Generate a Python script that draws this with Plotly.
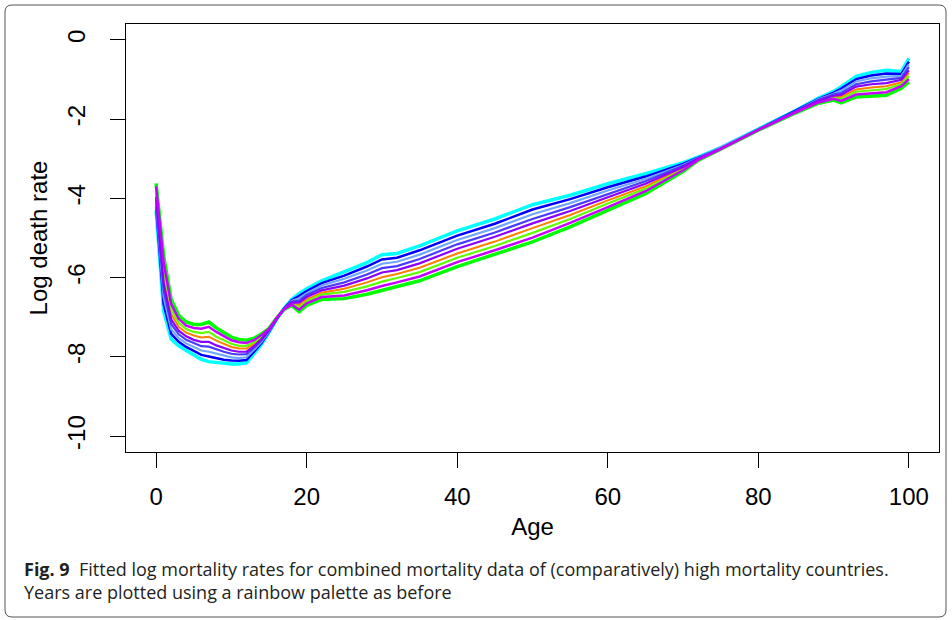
import plotly.graph_objects as go

# Ages at which the fitted curves are read
ages = [0, 1, 2, 3, 4, 5, 6, 7, 8, 9, 10, 11, 12, 13, 14, 15, 16, 17, 18, 19, 20,
        22, 25, 28, 30, 32, 35,
        40, 45, 50, 55, 60, 65, 70,
        72, 75, 80, 85, 88,
        90, 91, 93, 95, 97, 99, 100]

# Fitted log death rates, one curve per year group (rainbow palette)
year_green = [-3.62, -5.45, -6.55, -6.95, -7.12, -7.18, -7.18, -7.12, -7.27, -7.38, -7.50, -7.56, -7.58, -7.53, -7.42, -7.28, -7.02, -6.80, -6.70, -6.86, -6.70,
              -6.55, -6.53, -6.42, -6.32, -6.22, -6.08,
              -5.72, -5.42, -5.10, -4.72, -4.30, -3.88, -3.32,
              -3.04, -2.76, -2.28, -1.84, -1.60,
              -1.52, -1.59, -1.44, -1.42, -1.40, -1.22, -1.06]
year_purple = [-3.70, -5.62, -6.67, -7.04, -7.21, -7.27, -7.29, -7.24, -7.37, -7.48, -7.58, -7.63, -7.65, -7.58, -7.45, -7.29, -7.02, -6.80, -6.68, -6.81, -6.65,
               -6.49, -6.45, -6.32, -6.21, -6.12, -5.97,
               -5.61, -5.31, -4.99, -4.62, -4.22, -3.82, -3.29,
               -3.03, -2.76, -2.27, -1.83, -1.58,
               -1.49, -1.54, -1.38, -1.35, -1.32, -1.17, -0.99]
year_lime = [-3.79, -5.80, -6.80, -7.14, -7.30, -7.37, -7.40, -7.37, -7.49, -7.58, -7.67, -7.72, -7.72, -7.63, -7.49, -7.31, -7.03, -6.80, -6.66, -6.75, -6.60,
             -6.43, -6.36, -6.22, -6.10, -6.01, -5.86,
             -5.50, -5.20, -4.87, -4.52, -4.13, -3.76, -3.27,
             -3.02, -2.75, -2.27, -1.83, -1.57,
             -1.47, -1.49, -1.31, -1.27, -1.24, -1.12, -0.91]
year_orange = [-3.87, -5.97, -6.92, -7.24, -7.39, -7.46, -7.51, -7.49, -7.59, -7.67, -7.75, -7.79, -7.79, -7.67, -7.52, -7.32, -7.03, -6.79, -6.64, -6.69, -6.55,
               -6.38, -6.28, -6.12, -5.99, -5.91, -5.75,
               -5.39, -5.09, -4.75, -4.42, -4.05, -3.70, -3.24,
               -3.01, -2.75, -2.27, -1.82, -1.55,
               -1.44, -1.44, -1.25, -1.20, -1.17, -1.07, -0.84]
year_violet = [-3.96, -6.15, -7.05, -7.34, -7.48, -7.57, -7.62, -7.62, -7.71, -7.78, -7.84, -7.87, -7.87, -7.73, -7.55, -7.33, -7.04, -6.79, -6.63, -6.63, -6.49,
               -6.32, -6.20, -6.02, -5.87, -5.81, -5.64,
               -5.27, -4.97, -4.63, -4.32, -3.97, -3.63, -3.21,
               -3.00, -2.74, -2.27, -1.81, -1.54,
               -1.41, -1.39, -1.18, -1.12, -1.09, -1.01, -0.77]
year_indigo = [-4.04, -6.32, -7.17, -7.43, -7.57, -7.66, -7.73, -7.74, -7.81, -7.87, -7.92, -7.94, -7.93, -7.77, -7.58, -7.34, -7.04, -6.79, -6.61, -6.58, -6.44,
               -6.26, -6.12, -5.92, -5.76, -5.71, -5.53,
               -5.16, -4.86, -4.52, -4.22, -3.89, -3.57, -3.18,
               -2.99, -2.74, -2.26, -1.80, -1.52,
               -1.38, -1.34, -1.12, -1.05, -1.01, -0.96, -0.69]
year_sky = [-4.13, -6.50, -7.30, -7.53, -7.66, -7.76, -7.84, -7.87, -7.92, -7.97, -8.01, -8.03, -8.01, -7.82, -7.62, -7.36, -7.04, -6.79, -6.59, -6.52, -6.39,
            -6.20, -6.03, -5.82, -5.65, -5.60, -5.42,
            -5.05, -4.75, -4.40, -4.12, -3.80, -3.51, -3.16,
            -2.98, -2.73, -2.26, -1.80, -1.50,
            -1.36, -1.28, -1.05, -0.97, -0.93, -0.91, -0.62]
year_blue = [-4.21, -6.67, -7.42, -7.62, -7.75, -7.85, -7.95, -7.99, -8.03, -8.07, -8.09, -8.10, -8.08, -7.87, -7.65, -7.37, -7.05, -6.78, -6.57, -6.46, -6.34,
             -6.14, -5.95, -5.72, -5.54, -5.50, -5.31,
             -4.94, -4.64, -4.28, -4.02, -3.72, -3.45, -3.13,
             -2.97, -2.73, -2.26, -1.79, -1.49,
             -1.33, -1.23, -0.99, -0.90, -0.85, -0.86, -0.55]
year_cyan = [-4.30, -6.85, -7.55, -7.72, -7.84, -7.95, -8.06, -8.12, -8.14, -8.17, -8.18, -8.18, -8.15, -7.92, -7.68, -7.38, -7.05, -6.78, -6.55, -6.40, -6.28,
             -6.08, -5.86, -5.62, -5.42, -5.39, -5.20,
             -4.82, -4.52, -4.16, -3.92, -3.63, -3.38, -3.10,
             -2.96, -2.72, -2.25, -1.78, -1.47,
             -1.30, -1.18, -0.92, -0.82, -0.77, -0.80, -0.47]

x_ticks = [0, 20, 40, 60, 80, 100]
y_ticks = [0, -2, -4, -6, -8, -10]

# drawing order, colour, width
series = [
    (year_cyan, "#00FFFF", 3.5),
    (year_green, "#00FF00", 3.5),
    (year_blue, "#0000FF", 2.5),
    (year_sky, "#70A8FF", 2.2),
    (year_indigo, "#4A3CFF", 2.2),
    (year_orange, "#FF8000", 2.0),
    (year_lime, "#60FF00", 2.2),
    (year_violet, "#8A00FF", 2.2),
    (year_purple, "#C800FF", 2.5),
]

fig = go.Figure()
for vals, col, w in series:
    fig.add_trace(go.Scatter(x=ages, y=vals, mode="lines",
                             line=dict(color=col, width=w), showlegend=False,
                             hoverinfo="skip"))

L, T, R, B = 126, 24, 939, 452
W, H = 952, 620
pw, ph = R - L, B - T

def px(xp):
    return (xp - L) / pw

def py(yp):
    return (B - yp) / ph

axis_font = dict(family="Liberation Sans, Arial, sans-serif", size=24, color="black")

fig.update_layout(
    width=W, height=H,
    margin=dict(l=L, r=W - R, t=T, b=H - B, autoexpand=False),
    paper_bgcolor="white", plot_bgcolor="white",
    xaxis=dict(range=[-4, 104], tickvals=x_ticks, ticktext=[str(v) for v in x_ticks],
               showgrid=False, zeroline=False, showline=True, mirror=True,
               linecolor="black", linewidth=1, ticks="outside", ticklen=15,
               tickcolor="black", tickwidth=1, tickfont=axis_font,
               ticklabelstandoff=8,
               title=dict(text="Age", font=axis_font, standoff=9)),
    yaxis=dict(range=[-10.4, 0.4], tickvals=y_ticks, ticktext=[str(v) for v in y_ticks],
               showgrid=False, zeroline=False, showline=True, mirror=True,
               linecolor="black", linewidth=1, ticks="outside", ticklen=15,
               tickcolor="black", tickwidth=1, tickfont=axis_font, tickangle=-90,
               ticklabelstandoff=15,
               title=dict(text="Log death rate", font=axis_font, standoff=9)),
    font=dict(family="Liberation Sans, Arial, sans-serif"),
)

# rounded figure frame
x0, x1, y0, y1, r = px(5), px(946), py(5), py(617), 7
rx, ry = r / pw, r / ph
path = (f"M {x0+rx},{y0} L {x1-rx},{y0} Q {x1},{y0} {x1},{y0-ry} "
        f"L {x1},{y1+ry} Q {x1},{y1} {x1-rx},{y1} "
        f"L {x0+rx},{y1} Q {x0},{y1} {x0},{y1+ry} "
        f"L {x0},{y0-ry} Q {x0},{y0} {x0+rx},{y0} Z")
fig.add_shape(type="path", path=path, xref="paper", yref="paper",
              line=dict(color="#555555", width=1), fillcolor="rgba(0,0,0,0)")

cap_font = dict(family="Open Sans, sans-serif", size=18, color="#231F20")
fig.add_annotation(xref="paper", yref="paper", x=px(22), y=py(580.5), xanchor="left", yanchor="middle",
                   showarrow=False, font=cap_font, align="left",
                   text="<b>Fig. 9</b>&nbsp;&nbsp;Fitted log mortality rates for combined mortality data of (comparatively) high mortality countries."
                        "<br>Years are plotted using a rainbow palette as before")

fig.write_html("out.html", post_script="document.body.style.margin='0';",
               config={"displayModeBar": False})
